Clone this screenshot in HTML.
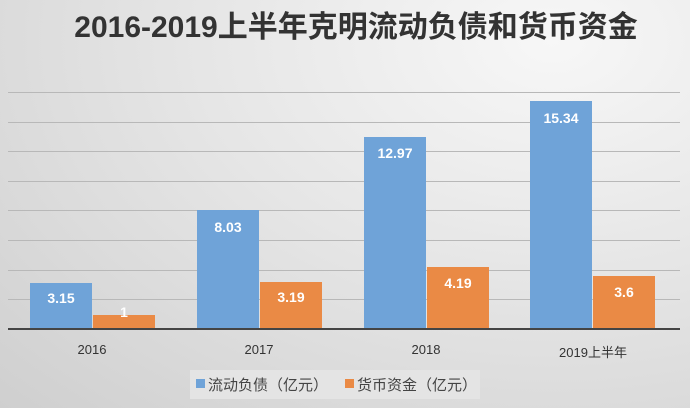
<!DOCTYPE html>
<html><head><meta charset="utf-8"><style>
body{margin:0}
#c{position:relative;width:690px;height:408px;overflow:hidden;background:radial-gradient(ellipse at 80% 10%,#f7f7f7 0%,#e6e6e6 45%,#cfcfcf 100%);font-family:"Liberation Sans","Noto Sans CJK SC",sans-serif}
.g{position:absolute;left:8px;width:672px;height:1px;background:#b8b8b8}
.b{position:absolute;width:62px}
.bl{background:#6fa3d8}.or{background:#ea8a45}
.v{position:absolute;width:62px;text-align:center;color:#fff;font-weight:bold;font-size:14px}
.x{position:absolute;top:342px;width:120px;text-align:center;font-size:13px;color:#333}
</style></head><body><div id="c">
<div style="position:absolute;left:0;width:690px;top:2px;text-align:center;font-size:30px;font-weight:bold;color:#333;padding-left:22px;box-sizing:border-box">2016-2019上半年克明流动负债和货币资金</div>
<div class="g" style="top:92px"></div><div class="g" style="top:122px"></div><div class="g" style="top:151px"></div><div class="g" style="top:181px"></div><div class="g" style="top:210px"></div><div class="g" style="top:240px"></div><div class="g" style="top:270px"></div><div class="g" style="top:299px"></div>
<div class="b bl" style="left:30px;top:283px;height:46px"></div><div class="v" style="left:30px;top:290px">3.15</div>
<div class="b or" style="left:93px;top:315px;height:14px"></div><div class="v" style="left:93px;top:304px">1</div>
<div class="b bl" style="left:197px;top:210px;height:119px"></div><div class="v" style="left:197px;top:219px">8.03</div>
<div class="b or" style="left:260px;top:282px;height:47px"></div><div class="v" style="left:260px;top:289px">3.19</div>
<div class="b bl" style="left:364px;top:137px;height:192px"></div><div class="v" style="left:364px;top:145px">12.97</div>
<div class="b or" style="left:427px;top:267px;height:62px"></div><div class="v" style="left:427px;top:275px">4.19</div>
<div class="b bl" style="left:530px;top:101px;height:228px"></div><div class="v" style="left:530px;top:110px">15.34</div>
<div class="b or" style="left:593px;top:276px;height:53px"></div><div class="v" style="left:593px;top:284px">3.6</div>
<div style="position:absolute;left:8px;width:672px;top:328px;height:2px;background:#444"></div>
<div class="x" style="left:32px">2016</div><div class="x" style="left:199px">2017</div><div class="x" style="left:366px">2018</div><div class="x" style="left:533px">2019上半年</div>
<div style="position:absolute;left:190px;top:370px;width:290px;height:29px;background:#e4e4e4"></div>
<div style="position:absolute;left:196px;top:379px;width:9px;height:9px;background:#6fa3d8"></div>
<div style="position:absolute;left:208px;top:374px;font-size:15px;color:#444">流动负债（亿元）</div>
<div style="position:absolute;left:345px;top:379px;width:9px;height:9px;background:#ea8a45"></div>
<div style="position:absolute;left:357px;top:374px;font-size:15px;color:#444">货币资金（亿元）</div>
</div></body></html>
